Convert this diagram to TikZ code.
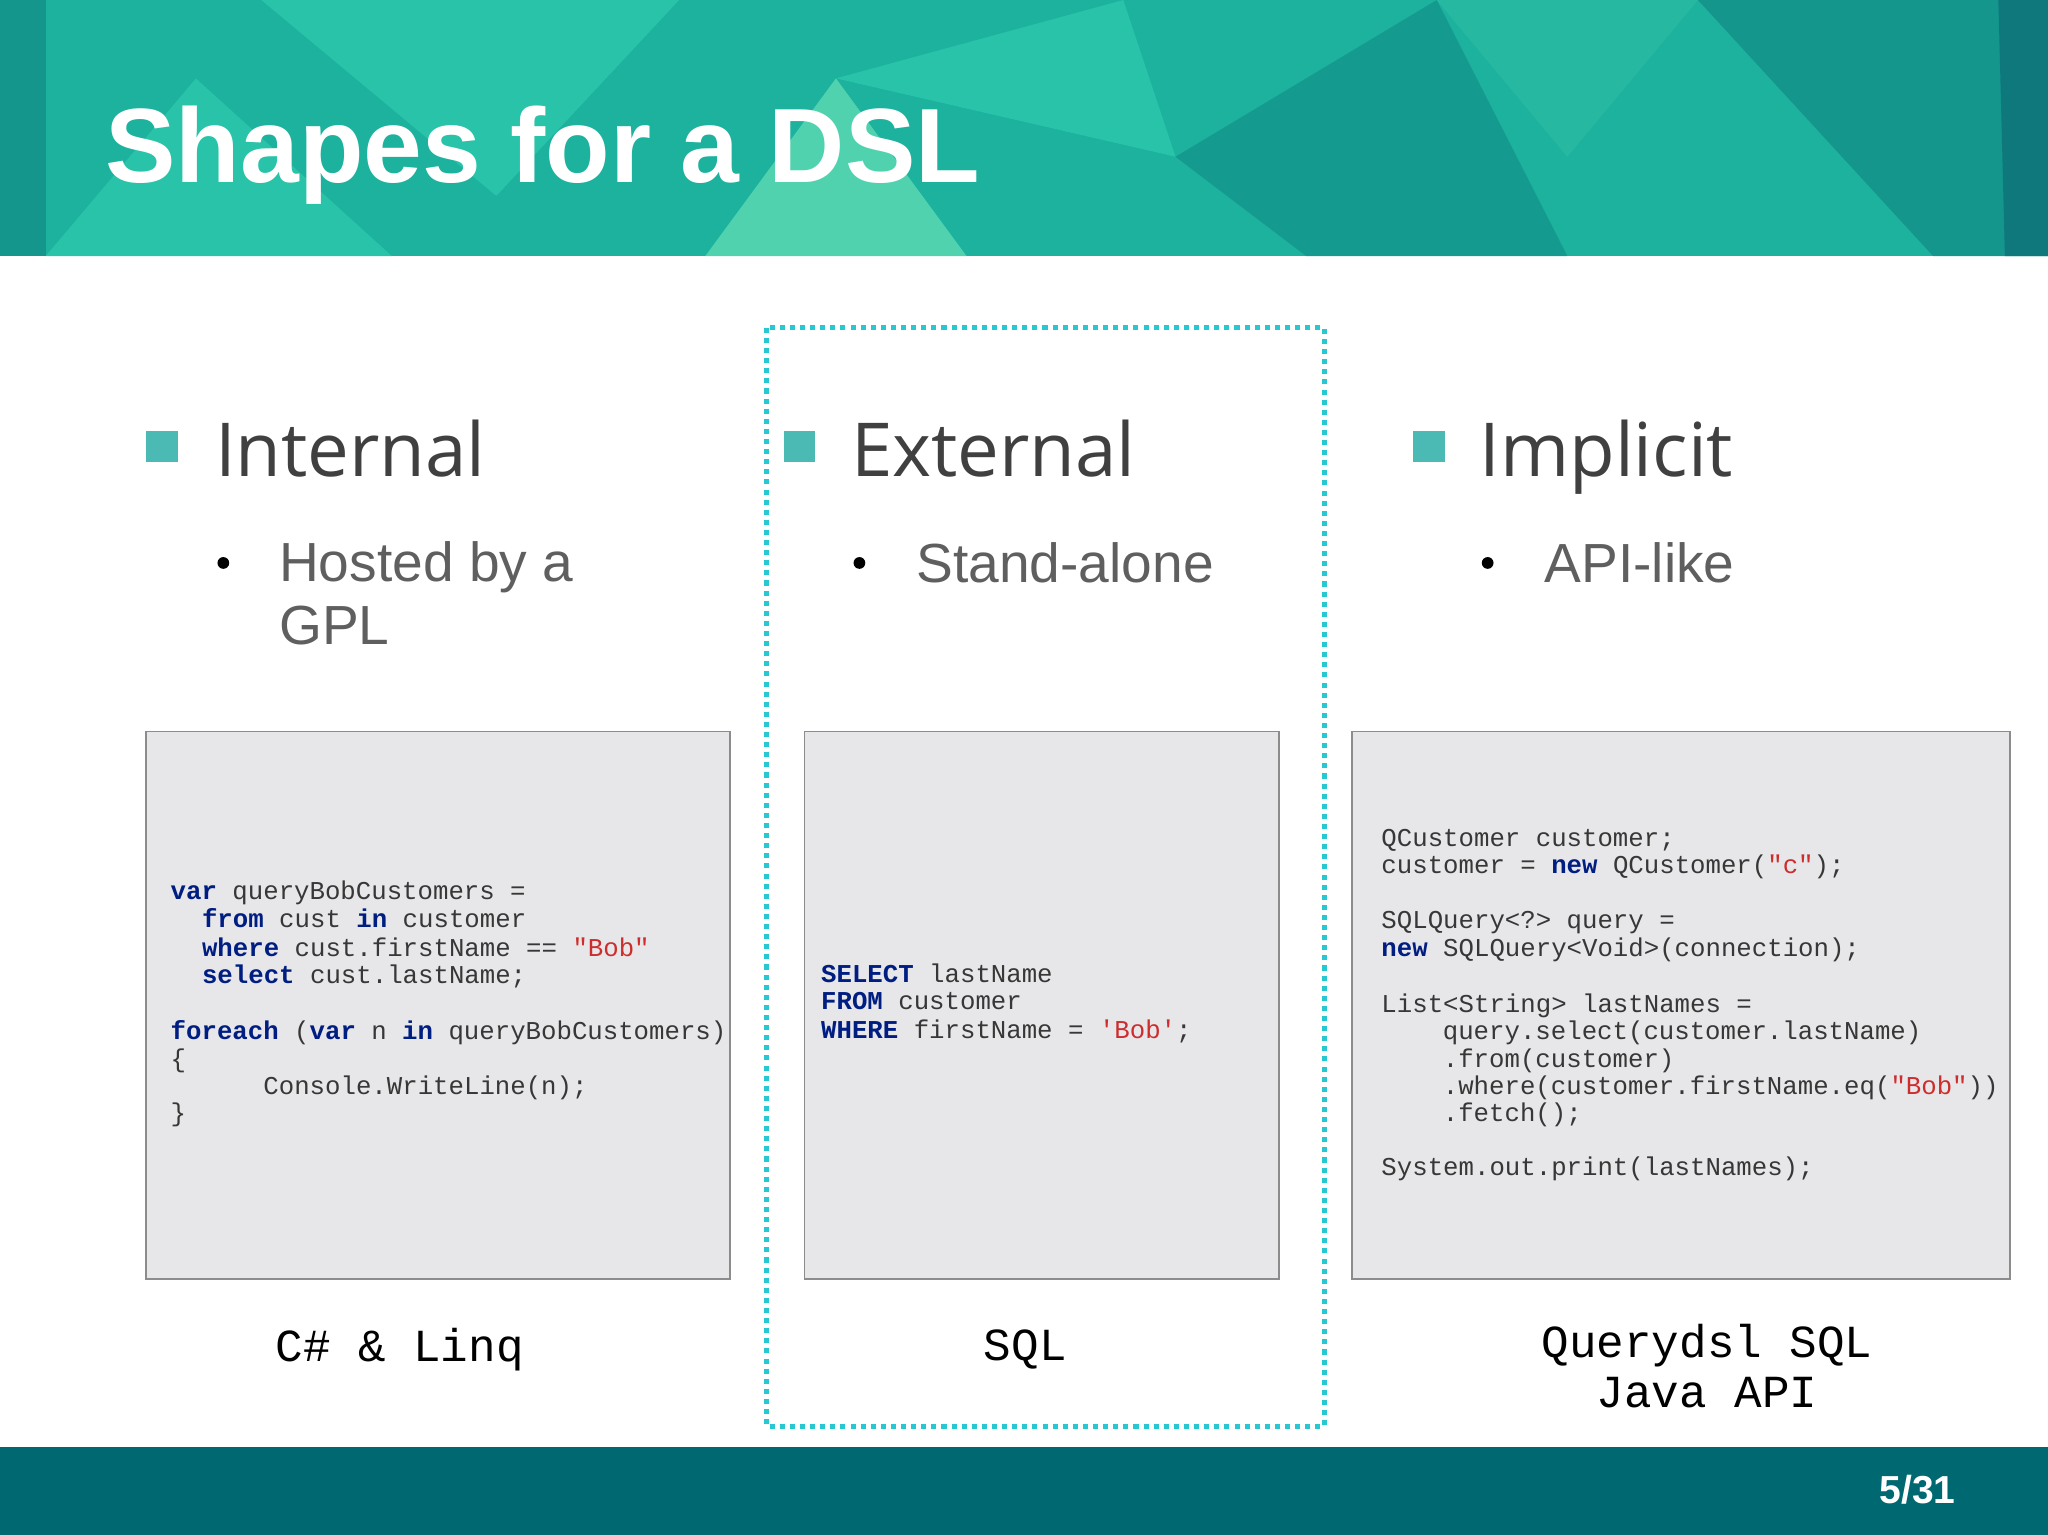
\documentclass[tikz,border=0pt]{standalone}
\usepackage{fontspec}
\setmainfont{Liberation Sans}
\setmonofont{Liberation Mono}
\newfontfamily\headfont{Open Sans}
\definecolor{teal1}{RGB}{28,178,158}
\definecolor{teal2}{RGB}{40,195,168}
\definecolor{teal3}{RGB}{20,150,140}
\definecolor{teal4}{RGB}{80,210,175}
\definecolor{teal5}{RGB}{14,120,125}
\definecolor{barcol}{RGB}{0,104,112}
\definecolor{bulletc}{RGB}{75,186,180}
\definecolor{headc}{RGB}{64,64,64}
\definecolor{subc}{RGB}{95,95,95}
\definecolor{boxfill}{RGB}{231,230,232}
\definecolor{boxline}{RGB}{140,140,140}
\definecolor{kwblue}{RGB}{0,30,130}
\definecolor{strred}{RGB}{205,45,45}
\definecolor{codec}{RGB}{55,55,55}
\definecolor{dotc}{RGB}{40,200,210}
\newcommand{\kw}[1]{{\bfseries\color{kwblue}#1}}
\newcommand{\st}[1]{{\color{strred}#1}}
\begin{document}
\begin{tikzpicture}[x=0.01cm,y=-0.01cm,
  code/.style={anchor=base west,inner sep=0,font=\ttfamily\fontsize{5.6}{6}\selectfont,text=codec},
  cbox/.style={draw=boxline,fill=boxfill,line width=0.4pt},
  head/.style={anchor=base west,inner sep=0,font=\headfont\fontsize{16.2}{18}\selectfont,text=headc},
  sub/.style={anchor=base west,inner sep=0,font=\fontsize{12}{13.8}\selectfont,text=subc,align=left},
  captxt/.style={inner sep=0,font=\ttfamily\fontsize{10}{10.8}\selectfont,text=black,align=center},
  sq/.style={fill=bulletc,minimum size=0.24cm,inner sep=0}]
\useasboundingbox (0,0) rectangle (1568,1175);
% header
\fill[teal1] (0,0) rectangle (1568,196);
\fill[teal3] (0,0) -- (35,0) -- (35,196) -- (0,196) -- cycle;
\fill[teal2] (200,0) -- (520,0) -- (380,150) -- cycle;
\fill[teal4] (540,196) -- (640,60) -- (740,196) -- cycle;
\fill[teal2] (640,60) -- (860,0) -- (900,120) -- cycle;
\fill[teal3!85!teal1] (900,120) -- (1100,0) -- (1200,196) -- (1000,196) -- cycle;
\fill[teal2] (35,196) -- (150,60) -- (300,196) -- cycle;
\fill[teal3] (1300,0) -- (1568,0) -- (1568,196) -- (1480,196) -- cycle;
\fill[teal5] (1530,0) -- (1568,0) -- (1568,196) -- (1535,196) -- cycle;
\fill[teal1!80!teal4] (1100,0) -- (1300,0) -- (1200,120) -- cycle;
\node[anchor=base west,inner sep=0,text=white,font=\bfseries\fontsize{23}{27}\selectfont] (title) at (80,140) {Shapes for a DSL};
% footer
\fill[barcol] (0,1108) rectangle (1568,1175);
\node[anchor=base east,inner sep=0,text=white,font=\bfseries\fontsize{8.5}{10}\selectfont] (pg) at (1498,1151) {5/31};
% dotted highlight
\draw[dotc,line width=1.1pt,dash pattern=on 1.1pt off 1.1pt] (587,251) rectangle (1014,1092);
% headings
\node[sq] (b1) at (124,342) {};
\node[head] (h1) at (164,365) {Internal};
\node[sq] (b2) at (612,342) {};
\node[head] (h2) at (651,365) {External};
\node[sq] (b3) at (1094,342) {};
\node[head] (h3) at (1132,365) {Implicit};
\node[sub,anchor=north west] (s1) at (213,414) {Hosted by a\\GPL};
\fill[black] (171,431) circle (4.5);
\node[sub] (s2) at (701,446) {Stand-alone};
\fill[black] (658,431) circle (4.5);
\node[sub] (s3) at (1182,446) {API-like};
\fill[black] (1139,431) circle (4.5);
% boxes
\draw[cbox] (112,560) rectangle (559,979);
\draw[cbox] (616,560) rectangle (979,979);
\draw[cbox] (1035,560) rectangle (1539,979);
% internal code
\node[code] at (130,689) {\kw{var} queryBobCustomers =};
\node[code] at (154,710) {\kw{from} cust \kw{in} customer};
\node[code] at (154,732) {\kw{where} cust.firstName == \st{"Bob"}};
\node[code] at (154,753) {\kw{select} cust.lastName;};
\node[code] at (130,796) {\kw{foreach} (\kw{var} n \kw{in} queryBobCustomers)};
\node[code] at (130,817) {\{};
\node[code] at (201,838) {Console.WriteLine(n);};
\node[code] at (130,859) {\}};
% sql
\node[code] at (628,752) {\kw{SELECT} lastName};
\node[code] at (628,773) {\kw{FROM} customer};
\node[code] at (628,795) {\kw{WHERE} firstName = \st{'Bob'};};
% implicit
\node[code] at (1057,648) {QCustomer customer;};
\node[code] at (1057,669) {customer = \kw{new} QCustomer(\st{"c"});};
\node[code] at (1057,711) {SQLQuery<?> query =};
\node[code] at (1057,732) {\kw{new} SQLQuery<Void>(connection);};
\node[code] at (1057,775) {List<String> lastNames =};
\node[code] at (1104,796) {query.select(customer.lastName)};
\node[code] at (1104,817) {.from(customer)};
\node[code] at (1104,838) {.where(customer.firstName.eq(\st{"Bob"}))};
\node[code] at (1104,859) {.fetch();};
\node[code] at (1057,900) {System.out.print(lastNames);};
% captions
\node[captxt] (c1) at (306,1033) {C\# \& Linq};
\node[captxt] (c2) at (785,1033) {SQL};
\node[captxt,align=center] (c3) at (1307,1046) {Querydsl SQL\\Java API};
\end{tikzpicture}
\end{document}
